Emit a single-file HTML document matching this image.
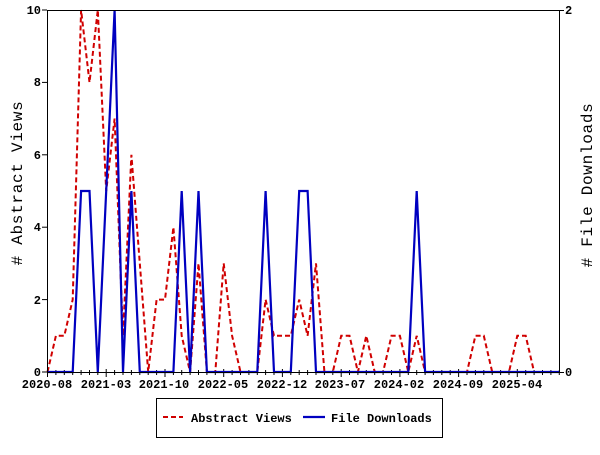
<!DOCTYPE html>
<html><head><meta charset="utf-8"><style>
html,body{margin:0;padding:0;background:#fff;}
svg text{font-family:"Liberation Mono","DejaVu Sans Mono",monospace;font-weight:bold;font-size:12px;fill:#000;}
svg text.t{font-weight:normal;font-size:16px;letter-spacing:0.7px;}
</style></head><body>
<svg id="s" width="600" height="450" xmlns="http://www.w3.org/2000/svg">
<rect x="0" y="0" width="600" height="450" fill="#fff"/>
<g id="ticks"></g>
<polyline id="views" fill="none" stroke="#d00000" stroke-width="2" stroke-dasharray="5,3"/>
<polyline id="dl" fill="none" stroke="#0000c0" stroke-width="2.2"/>
<rect x="47.5" y="10.5" width="512" height="362" fill="none" stroke="#000" stroke-width="1"/>
<text x="41" y="14" text-anchor="end">10</text>
<text x="41" y="86" text-anchor="end">8</text>
<text x="41" y="159" text-anchor="end">6</text>
<text x="41" y="231" text-anchor="end">4</text>
<text x="41" y="304" text-anchor="end">2</text>
<text x="41" y="376" text-anchor="end">0</text>
<text x="565" y="14">2</text>
<text x="565" y="376">0</text>
<text x="47" y="388" text-anchor="middle">2020-08</text>
<text x="106" y="388" text-anchor="middle">2021-03</text>
<text x="164" y="388" text-anchor="middle">2021-10</text>
<text x="223" y="388" text-anchor="middle">2022-05</text>
<text x="282" y="388" text-anchor="middle">2022-12</text>
<text x="340" y="388" text-anchor="middle">2023-07</text>
<text x="399" y="388" text-anchor="middle">2024-02</text>
<text x="458" y="388" text-anchor="middle">2024-09</text>
<text x="517" y="388" text-anchor="middle">2025-04</text>
<text class="t" transform="translate(22,183) rotate(-90)" text-anchor="middle"># Abstract Views</text>
<text class="t" transform="translate(592,185) rotate(-90)" text-anchor="middle"># File Downloads</text>
<rect x="156.5" y="398.5" width="286" height="39" fill="none" stroke="#000"/>
<line x1="163" y1="417" x2="183" y2="417" stroke="#d00000" stroke-width="2" stroke-dasharray="5,3"/>
<text x="191" y="422">Abstract Views</text>
<line x1="303" y1="417" x2="325" y2="417" stroke="#0000c0" stroke-width="2.2"/>
<text x="331" y="422">File Downloads</text>
</svg>
<script>
var v=[0,1,1,2,10,8,10,5,7,1,6,3,0,2,2,4,1,0,3,0,0,3,1,0,0,0,2,1,1,1,2,1,3,0,0,1,1,0,1,0,0,1,1,0,1,0,0,0,0,0,0,1,1,0,0,0,1,1,0,0,0,0];
var d=new Array(62).fill(0);
d[4]=1;d[5]=1;d[7]=1;d[8]=2;d[10]=1;d[16]=1;d[18]=1;d[26]=1;d[30]=1;d[31]=1;d[44]=1;
var sx=8.39,x0=47.5,p1=[],p2=[];
for(var i=0;i<62;i++){var x=x0+i*sx;p1.push(x.toFixed(1)+","+(372-v[i]*36.2).toFixed(1));p2.push(x.toFixed(1)+","+(372-d[i]*181).toFixed(1));}
document.getElementById("views").setAttribute("points",p1.join(" "));
document.getElementById("dl").setAttribute("points",p2.join(" "));
var g="";
for(var i=0;i<62;i++){var x=(x0+i*sx).toFixed(1);var maj=(i%7==0);g+='<line x1="'+x+'" y1="'+(maj?369:370)+'" x2="'+x+'" y2="'+(maj?377:375)+'" stroke="#000"/>';}
for(var k=0;k<=5;k++){var y=(372-k*72.4).toFixed(1);g+='<line x1="42" y1="'+y+'" x2="47" y2="'+y+'" stroke="#000"/>';}
g+='<line x1="559" y1="10.5" x2="564" y2="10.5" stroke="#000"/><line x1="559" y1="372.5" x2="564" y2="372.5" stroke="#000"/>';
document.getElementById("ticks").innerHTML=g;
</script>
</body></html>
